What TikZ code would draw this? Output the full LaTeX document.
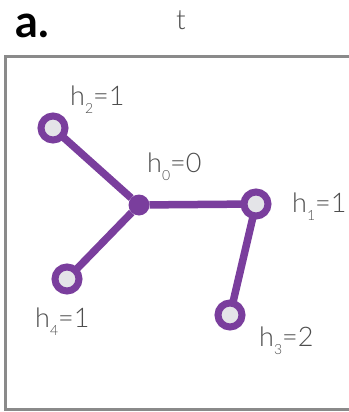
\documentclass[tikz,border=0pt]{standalone}
\usepackage{fontspec}
\setmainfont{Lato}
\newfontfamily\lightfont{Lato Light}
\definecolor{vio}{HTML}{7A3E9D}
\definecolor{ringfill}{HTML}{E4E4E8}
\definecolor{boxgrey}{HTML}{8A8A8A}
\definecolor{txtgrey}{HTML}{4E4E4E}
\newcommand{\hlab}[2]{h\raisebox{-8pt}{\fontsize{14}{14}\selectfont #1}=#2}
\begin{document}
\begin{tikzpicture}[x=1pt,y=-1pt,
  ringnode/.style={circle,draw=vio,fill=ringfill,line width=7pt,minimum size=24pt,inner sep=0pt,outer sep=0pt},
  hubnode/.style={circle,fill=vio,minimum size=21pt,inner sep=0pt,outer sep=0pt},
  edgeline/.style={draw=vio,line width=7.5pt},
  lab/.style={anchor=base west,inner sep=0pt,text=txtgrey,font=\lightfont\fontsize{27}{27}\selectfont}]
\useasboundingbox (0,0) rectangle (348,412);
\draw[boxgrey,line width=3pt] (360,57) -- (5.5,57) -- (5.5,409) -- (360,409);
\node[anchor=base west,inner sep=0pt,font=\bfseries\fontsize{45}{45}\selectfont] (a) at (15,37.5) {a.};
\node[anchor=base west,inner sep=0pt,text=txtgrey,font=\lightfont\fontsize{28}{28}\selectfont] (t) at (176,30) {t};
\node[hubnode] (n0) at (139,205) {};
\node[ringnode] (n1) at (256,204) {};
\node[ringnode] (n2) at (53,128) {};
\node[ringnode] (n3) at (230,315) {};
\node[ringnode] (n4) at (67,279) {};
\path[edgeline] (n0) -- (n1) (n0) -- (n2) (n0) -- (n4) (n1) -- (n3);
\node[lab] (l2) at (70,105) {\hlab{2}{1}};
\node[lab] (l0) at (147,172) {\hlab{0}{0}};
\node[lab] (l1) at (292,212) {\hlab{1}{1}};
\node[lab] (l4) at (35,327) {\hlab{4}{1}};
\node[lab] (l3) at (259,346) {\hlab{3}{2}};
\end{tikzpicture}
\end{document}
